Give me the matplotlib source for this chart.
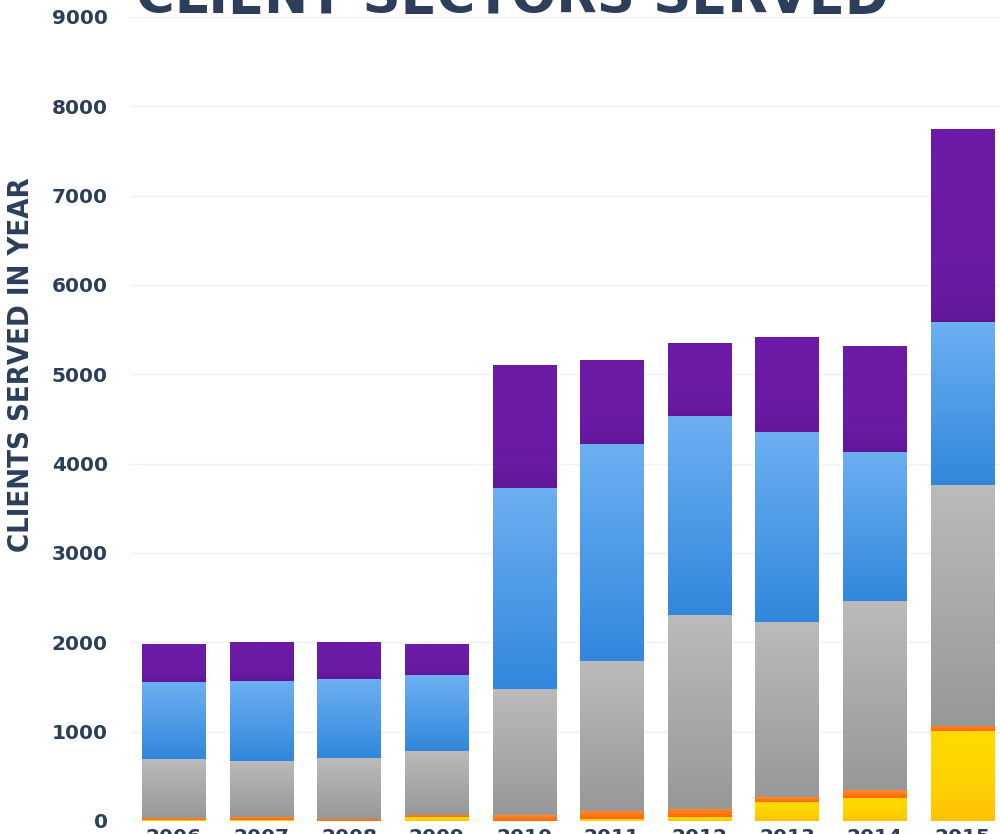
import numpy as np
import matplotlib
matplotlib.use('Agg')
import matplotlib.pyplot as plt
from matplotlib.colors import LinearSegmentedColormap

# data (clients served per sector, stacked bottom to top)
years = ['2006', '2007', '2008', '2009', '2010', '2011', '2012', '2013', '2014', '2015']
yellow = [10, 10, 0, 40, 0, 20, 45, 212, 257, 1005]
orange = [20, 30, 25, 25, 67, 90, 90, 55, 85, 60]
gray = [663, 630, 679, 717, 1408, 1678, 2167, 1956, 2116, 2700]
blue = [860, 894, 883, 849, 2257, 2435, 2234, 2135, 1676, 1822]
purple = [425, 436, 413, 347, 1374, 939, 816, 1061, 1184, 2156]

series = [yellow, orange, gray, blue, purple]
# (top colour, bottom colour, gradient exponent) for each segment
grads = [('#FFD900', '#FFC107', 2),
         ('#FF8A2A', '#FF6A0A', 1),
         ('#BBBBBB', '#989898', 1),
         ('#6DB0F2', '#3187DC', 1),
         ('#6B1BA6', '#601797', 6)]

text_col = '#2D3E5A'

fig = plt.figure(figsize=(10, 8.34), dpi=100)
ax = fig.add_axes([0.130, 1 - 821 / 834, 0.876, 804 / 834])

x = np.arange(len(years))
w = 0.72
bottom = np.zeros(len(years))
ramp = np.linspace(0, 1, 256).reshape(-1, 1)
for vals, (c_top, c_bot, p) in zip(series, grads):
    vals = np.array(vals, dtype=float)
    bars = ax.bar(x, vals, w, bottom=bottom, color=c_bot, linewidth=0, zorder=2)
    cmap = LinearSegmentedColormap.from_list('g', [c_top, c_bot])
    for b in bars:
        if b.get_height() <= 0:
            continue
        l, bt = b.get_x(), b.get_y()
        ax.imshow(ramp ** p, cmap=cmap, vmin=0, vmax=1,
                  aspect='auto', origin='upper', zorder=3,
                  extent=[l, l + b.get_width(), bt, bt + b.get_height()])
    bottom += vals

ax.set_xlim(-0.5, len(years) - 0.5)
ax.set_ylim(0, 9000)
ax.set_yticks(np.arange(0, 9001, 1000))
ax.set_xticks(x)
ax.set_xticklabels(years)
ax.grid(axis='y', color='#EEF2F6', linewidth=1, zorder=0)
ax.set_axisbelow(True)
for s in ax.spines.values():
    s.set_visible(False)
ax.tick_params(axis='y', length=0, pad=16, labelsize=14.5, labelcolor=text_col)
ax.tick_params(axis='x', length=0, pad=5, labelsize=14.5, labelcolor=text_col)
for lab in ax.get_xticklabels() + ax.get_yticklabels():
    lab.set_fontweight('bold')

fig.text(0.021, 1 - 365 / 834, 'CLIENTS SERVED IN YEAR', rotation=90,
         ha='center', va='center', fontsize=21, fontweight='bold',
         fontstretch='condensed', family='DejaVu Sans', color=text_col)

fig.text(0.136, 1 - 13 / 834, 'CLIENT SECTORS SERVED', ha='left', va='baseline',
         fontsize=38, fontweight='bold', color=text_col)

fig.savefig('out.png', dpi=100)
